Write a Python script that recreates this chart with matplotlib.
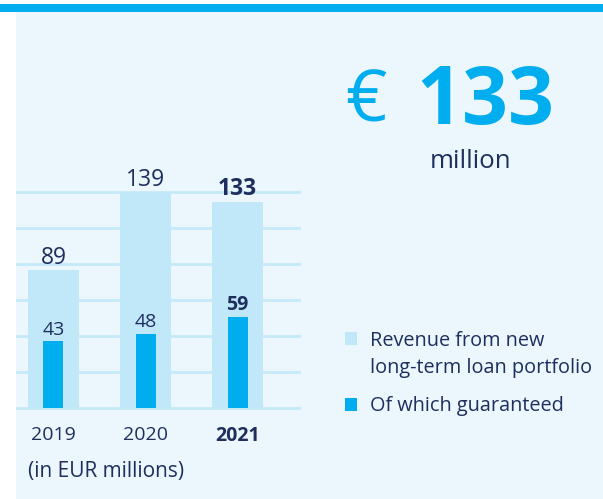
import matplotlib
matplotlib.use("Agg")
import matplotlib.pyplot as plt
from matplotlib.patches import Rectangle

years = ["2019", "2020", "2021"]
revenue = [89, 139, 133]
guaranteed = [43, 48, 59]
highlight = [False, False, True]
headline = "133"
legend_labels = ["Revenue from new\nlong-term loan portfolio", "Of which guaranteed"]

NAVY = "#1E2F5E"
CYAN = "#00AEEF"
LIGHT = "#C0E8F9"
PANEL = "#EBF6FD"
GRID = "#C4E9F9"

plt.rcParams['font.family'] = ['Open Sans', 'DejaVu Sans']

W, H = 603, 499
fig = plt.figure(figsize=(W / 100, H / 100), dpi=100)
fig.patch.set_facecolor("white")

def fx(x):
    return x / W

def fy(y):
    return 1 - y / H

# panel + top bar
fig.patches.append(Rectangle((fx(16), 0), 1 - fx(16), fy(12), transform=fig.transFigure,
                             facecolor=PANEL, edgecolor="none", zorder=-5))
fig.patches.append(Rectangle((0, fy(12)), 1, fy(4) - fy(12), transform=fig.transFigure,
                             facecolor=CYAN, edgecolor="none", zorder=-5))

# axes: x pixels 16.7..299, y pixels 408.3 (0) .. 192.3 (139)
left, right = 16.7, 299
bottom, top = 408.3, 192.3
ax = fig.add_axes([fx(left), fy(bottom), fx(right) - fx(left), fy(top) - fy(bottom)])
ax.set_facecolor("none")
x = list(range(len(years)))
ax.set_xlim((left - 53.5) / 92, (right - 53.5) / 92)
ymax = max(revenue)
ax.set_ylim(0, ymax)

for k in range(7):
    ax.axhline(ymax * k / 6, color=GRID, lw=2.0, zorder=1, clip_on=False)

ax.bar(x, revenue, width=51 / 92, color=LIGHT, zorder=2)
ax.bar(x, guaranteed, width=20 / 92, color=CYAN, zorder=3)

for i in x:
    w = "bold" if highlight[i] else "normal"
    ax.annotate(str(revenue[i]), (i, revenue[i]), xytext=(0, 4.5), textcoords="offset points",
                ha="center", va="baseline", fontsize=16.5, color=NAVY, fontweight=w, zorder=5,
                annotation_clip=False)
    ax.annotate(str(guaranteed[i]), (i, guaranteed[i]), xytext=(0, 4.5), textcoords="offset points",
                ha="center", va="baseline", fontsize=14, color=NAVY, fontweight=w, zorder=5)

ax.set_xticks(x)
ax.set_xticklabels(years, fontsize=14, color=NAVY)
for lbl, h in zip(ax.get_xticklabels(), highlight):
    if h:
        lbl.set_fontweight("bold")
ax.tick_params(axis="x", length=0, pad=13)
ax.set_yticks([])
for s in ax.spines.values():
    s.set_visible(False)

fig.text(fx(28), fy(477), "(in EUR millions)", fontsize=15, color=NAVY, va="baseline", ha="left")

# headline
fig.text(fx(345), fy(122), "€", fontsize=52, color=CYAN, va="baseline", ha="left")
fig.text(fx(416), fy(124), headline, fontsize=58, color=CYAN, va="baseline", ha="left",
         fontweight="bold")
fig.text(fx(471), fy(168), "million", fontsize=18.5, color=NAVY, va="baseline", ha="center")

# legend
fig.patches.append(Rectangle((fx(345), fy(345)), fx(12), 13 / H, transform=fig.transFigure,
                             facecolor=LIGHT, edgecolor="none"))
fig.patches.append(Rectangle((fx(345), fy(411)), fx(12), 13 / H, transform=fig.transFigure,
                             facecolor=CYAN, edgecolor="none"))
fig.text(fx(370), fy(346), legend_labels[0].split("\n")[0], fontsize=14.3, color=NAVY, va="baseline")
fig.text(fx(370), fy(373), legend_labels[0].split("\n")[1], fontsize=14.3, color=NAVY, va="baseline")
fig.text(fx(370), fy(411), legend_labels[1], fontsize=14.3, color=NAVY, va="baseline")

fig.savefig("out.png", dpi=100)
